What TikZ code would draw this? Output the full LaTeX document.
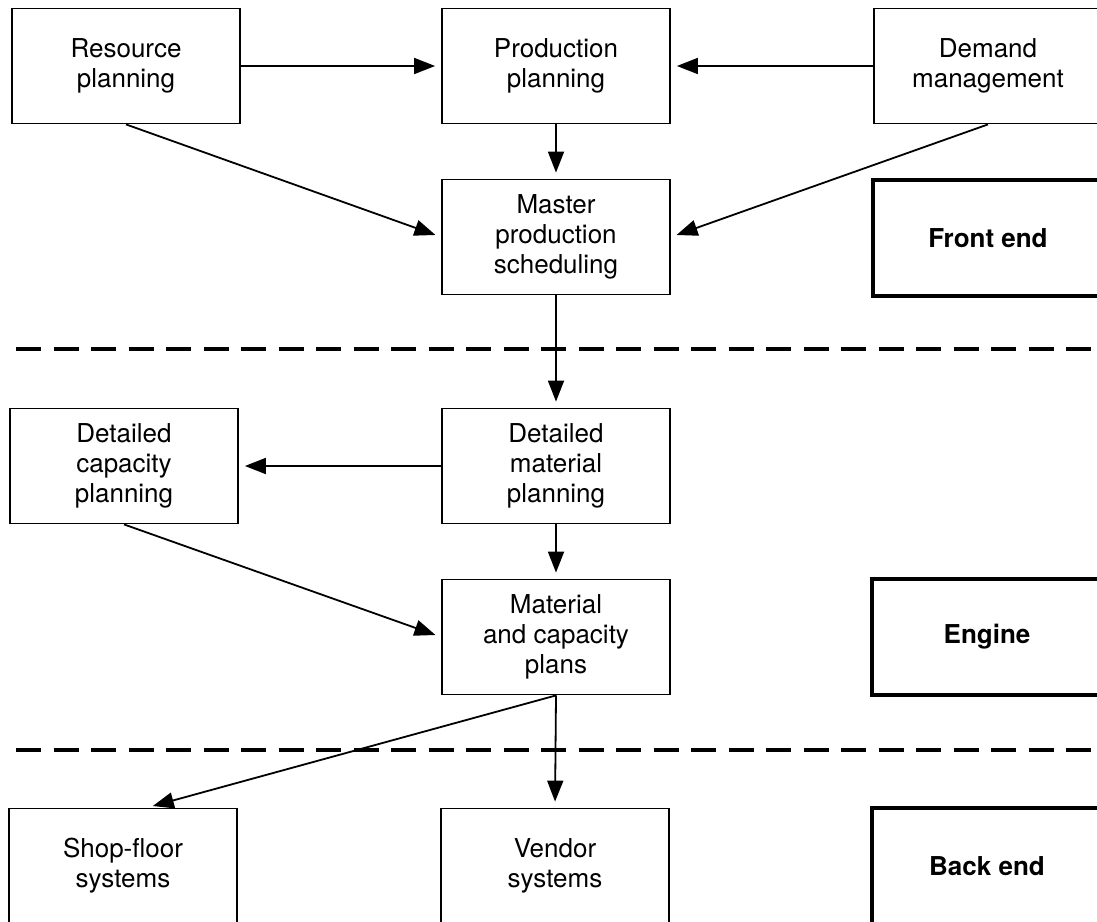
\documentclass[tikz,border=0pt]{standalone}
\usepackage{fontspec}
\setmainfont{TeX Gyre Heros}
\usetikzlibrary{arrows.meta,calc}
\begin{document}
\begin{tikzpicture}[x=1pt,y=-1pt,
  box/.style={draw, line width=1.8pt, minimum width=228pt, minimum height=115pt,
    inner sep=0pt, align=center, font=\fontsize{26}{30}\selectfont},
  sidebox/.style={box, line width=3.5pt, minimum width=230pt, minimum height=116pt,
    font=\fontsize{26}{30}\selectfont\bfseries},
  arr/.style={line width=1.8pt, -{Triangle[length=21pt,width=16pt]}, shorten >=6pt},
  divider/.style={line width=4pt, dash pattern=on 25pt off 12.5pt}]
  \useasboundingbox (0,0) rectangle (1097,921);
  \clip (0,0) rectangle (1097,921);

  % front end
  \node[box] (res)  at (126,66)  {Resource\\planning};
  \node[box] (prod) at (556,66)  {Production\\planning};
  \node[box] (dem)  at (988,66)  {Demand\\management};
  \node[box] (mps)  at (556,237) {Master\\production\\scheduling};
  \node[sidebox] (front) at (988,238) {Front end};

  % engine
  \node[box] (dcp) at (124,466) {Detailed\\capacity\\planning};
  \node[box] (dmp) at (556,466) {Detailed\\material\\planning};
  \node[box] (mcp) at (556,637) {Material\\and capacity\\plans};
  \node[sidebox] (engine) at (987,637) {Engine};

  % back end
  \node[box] (shop)   at (123,866) {Shop-floor\\systems};
  \node[box] (vendor) at (555,866) {Vendor\\systems};
  \node[sidebox] (back) at (987,866) {Back end};

  % section dividers
  \coordinate (d1a) at (16,349);  \coordinate (d1b) at (1097,349);
  \coordinate (d2a) at (16,750);  \coordinate (d2b) at (1097,750);
  \draw[divider] (d1a) -- (d1b);
  \draw[divider] (d2a) -- (d2b);

  % flows
  \draw[arr] (res.east) -- (prod.west);
  \draw[arr] (dem.west) -- (prod.east);
  \draw[arr] (prod.south) -- (mps.north);
  \draw[arr] (res.south) -- (mps.west);
  \draw[arr] (dem.south) -- (mps.east);
  \draw[arr] (mps.south) -- (dmp.north);
  \draw[arr] (dmp.west) -- (dcp.east);
  \draw[arr] (dmp.south) -- (mcp.north);
  \draw[arr] (dcp.south) -- (mcp.west);
  \draw[arr] (mcp.south) -- (vendor.north);
  \coordinate (shopin) at ($(shop.north)+(24,0)$);
  \draw[arr] (mcp.south) -- (shopin);
\end{tikzpicture}
\end{document}
